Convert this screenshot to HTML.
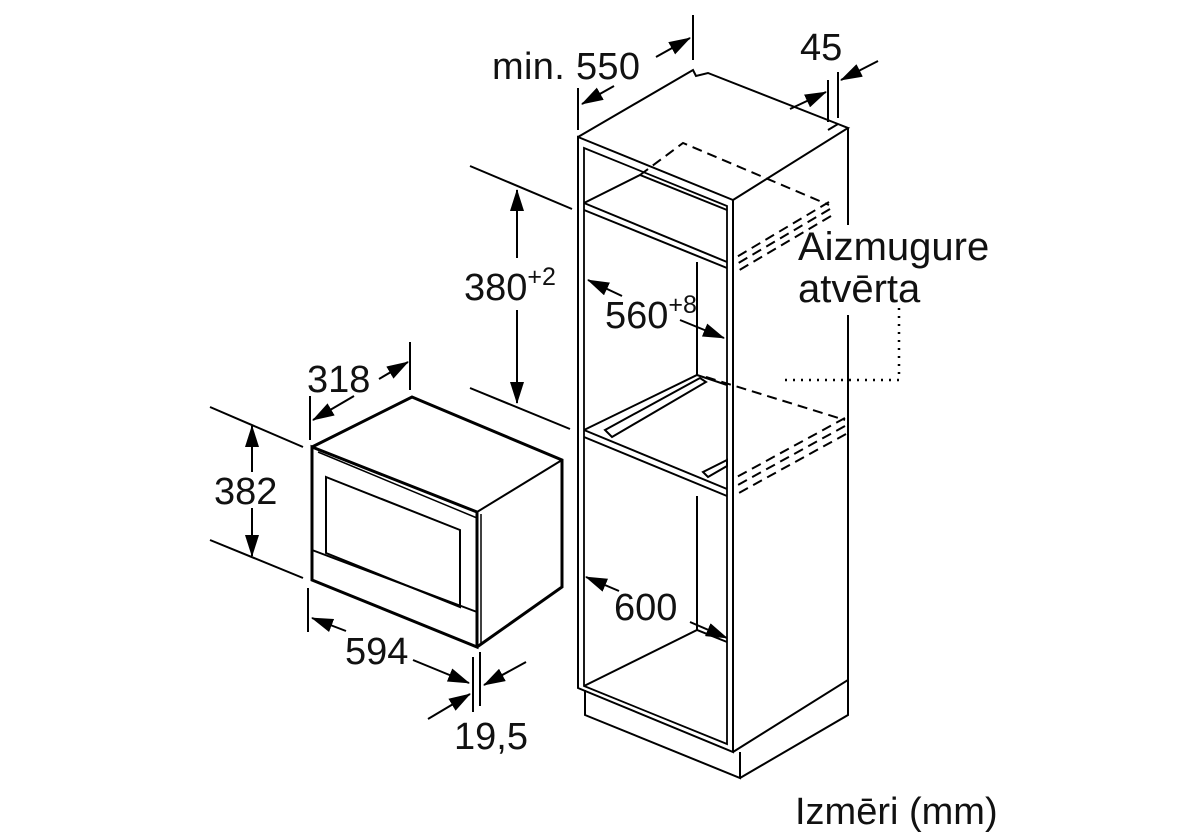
<!DOCTYPE html>
<html><head><meta charset="utf-8"><style>
html,body{margin:0;padding:0;background:#fff;}
svg{display:block;}
text{font-family:"Liberation Sans",Arial,sans-serif;fill:#111;}
</style></head><body>
<svg width="1197" height="840" viewBox="0 0 1197 840" xmlns="http://www.w3.org/2000/svg">
<defs>
<marker id="b" markerWidth="22" markerHeight="14" refX="21" refY="7" orient="auto" markerUnits="userSpaceOnUse" viewBox="0 0 22 14">
<path d="M0,0 L22,7 L0,14 z" fill="#000"/></marker>
</defs>
<g fill="none" stroke="#000" stroke-width="2">
<path d="M578,137 L733,200 L733,752 L578,688 Z"/>
<path d="M584,148 L727,206 L727,744 L584,686 Z" stroke-width="1.8"/>
<path d="M578,137 L693,70 L696,76 L708,73 L838,124 L848,128 L733,200"/>
<path d="M828,130 L838,124"/>
<path d="M848,128 L848,225"/>
<path d="M848,315 L848,680 L733,752"/>
<path d="M585,690 L585,715 L740,778 L740,752"/>
<path d="M740,778 L848,715 L848,680"/>
<path d="M584,203 L727,262"/>
<path d="M584,210 L727,268"/>
<path d="M584,203 L640,175 L727,210"/>
<path d="M584,430 L727,489"/>
<path d="M584,437 L727,496"/>
<path d="M584,430 L697,375 L727,385"/>
<path d="M697,262 L697,375"/>
<path d="M697,496 L697,630"/>
<path d="M584,686 L697,630 L727,642"/>
<path d="M605,430 L700,378 L706,382 L612,437 Z" stroke-width="2"/>
<path d="M703,472 L727,460 L727,466 L708,477 Z" stroke-width="2"/>
</g>
<g fill="none" stroke="#000" stroke-width="2" stroke-dasharray="10,6">
<path d="M640,175 L683,143 L829,205"/>
<path d="M829,202 L735,258"/>
<path d="M830,209 L735,265"/>
<path d="M831,216 L736,272"/>
<path d="M706,377 L845,420"/>
<path d="M845,418 L735,478"/>
<path d="M845,426 L736,486"/>
<path d="M846,434 L737,494"/>
</g>
<path d="M899,308 L899,380 L780,380" fill="none" stroke="#000" stroke-width="2.5" stroke-dasharray="2,6"/>
<g fill="none" stroke="#000">
<path d="M312,447 L477,512 L477,647 L312,580 Z" stroke-width="3"/>
<path d="M312,447 L412,397 L562,460 L562,587 L477,647" stroke-width="3"/>
<path d="M477,512 L562,460" stroke-width="2"/>
<path d="M318,452 L477,518" stroke-width="1.5"/>
<path d="M481,514 L481,645" stroke-width="1.5"/>
<path d="M326,477 L460,530 L460,607 L326,553 Z" stroke-width="2"/>
<path d="M312,550 L477,612" stroke-width="2"/>
</g>
<g fill="none" stroke="#000" stroke-width="2">
<path d="M578,88 L578,130"/><path d="M693,15 L693,60"/>
<path d="M614,86 L582,104" marker-end="url(#b)"/>
<path d="M656,57 L690,38" marker-end="url(#b)"/>
<path d="M828,80 L828,122"/><path d="M838,72 L838,118"/>
<path d="M790,109 L826,92" marker-end="url(#b)"/>
<path d="M878,61 L841,80" marker-end="url(#b)"/>
<path d="M470,166 L572,209"/><path d="M470,388 L570,429"/>
<path d="M517,258 L517,190" marker-end="url(#b)"/>
<path d="M517,310 L517,403" marker-end="url(#b)"/>
<path d="M622,296 L588,280" marker-end="url(#b)"/>
<path d="M680,320 L724,338" marker-end="url(#b)"/>
<path d="M619,591 L586,577" marker-end="url(#b)"/>
<path d="M690,622 L727,638" marker-end="url(#b)"/>
<path d="M310,396 L310,440"/><path d="M410,342 L410,390"/>
<path d="M354,396 L313,420" marker-end="url(#b)"/>
<path d="M379,379 L408,362" marker-end="url(#b)"/>
<path d="M210,407 L303,447"/><path d="M210,540 L303,578"/>
<path d="M252,472 L252,426" marker-end="url(#b)"/>
<path d="M252,508 L252,556" marker-end="url(#b)"/>
<path d="M308,588 L308,632"/>
<path d="M346,631 L312,618" marker-end="url(#b)"/>
<path d="M413,660 L469,683" marker-end="url(#b)"/>
<path d="M473,657 L473,712"/><path d="M480,652 L480,706"/>
<path d="M526,662 L484,685" marker-end="url(#b)"/>
<path d="M428,719 L470,694" marker-end="url(#b)"/>
</g>
<g font-size="38">
<text x="492" y="79" textLength="148">min. 550</text>
<text x="800" y="60">45</text>
<text x="464" y="300">380<tspan font-size="25" dy="-15">+2</tspan></text>
<text x="605" y="328">560<tspan font-size="25" dy="-15">+8</tspan></text>
<text x="798" y="260" font-size="40">Aizmugure</text>
<text x="798" y="302" font-size="40">atvērta</text>
<text x="307" y="392">318</text>
<text x="214" y="504">382</text>
<text x="345" y="664">594</text>
<text x="614" y="620">600</text>
<text x="454" y="749">19,5</text>
<text x="795" y="824" font-size="38">Izmēri (mm)</text>
</g>
</svg>
</body></html>
